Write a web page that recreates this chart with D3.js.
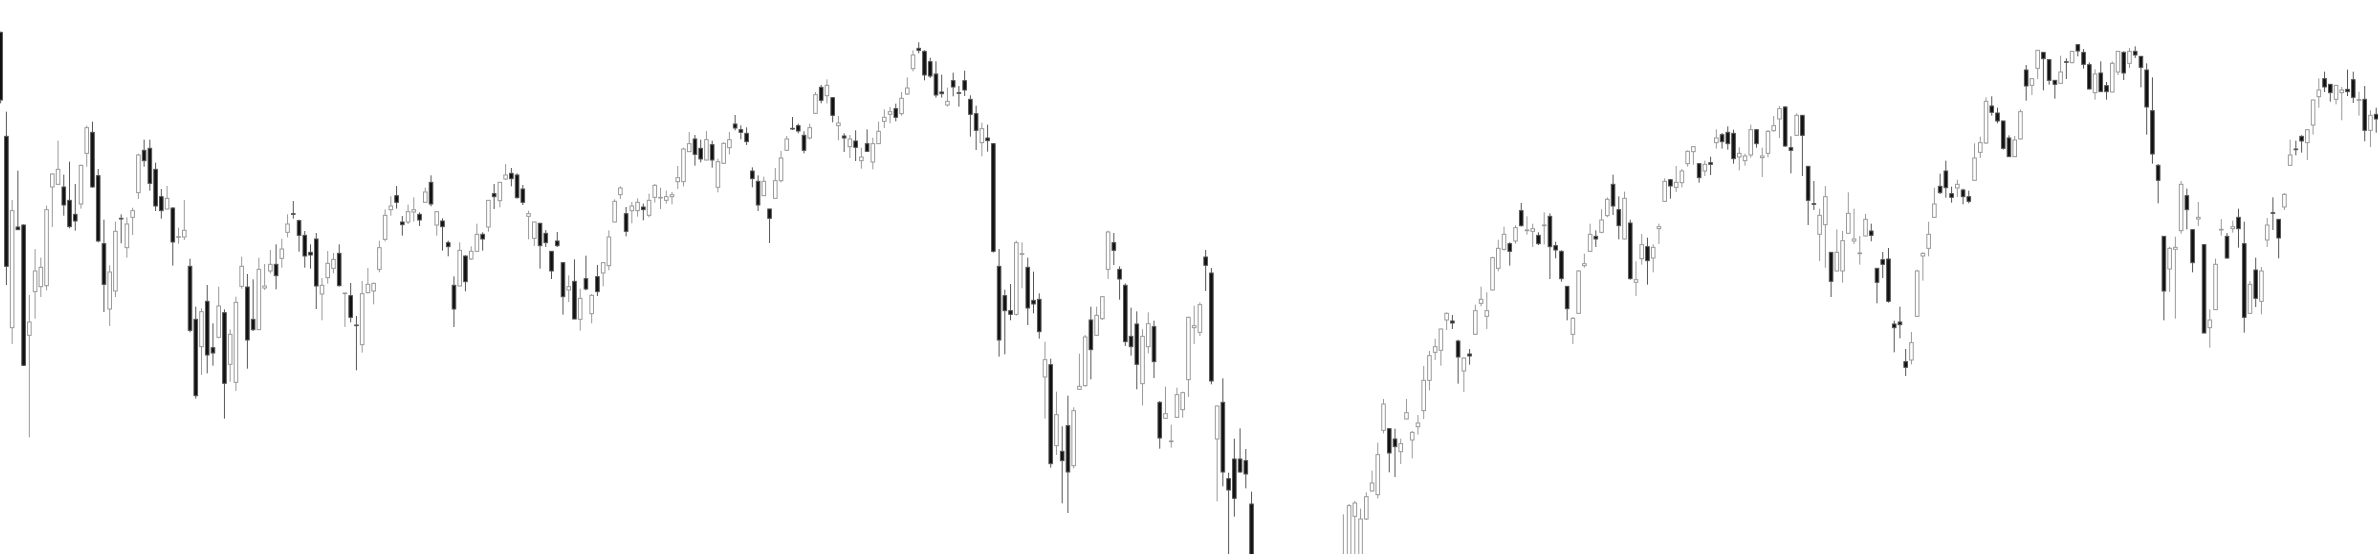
<!DOCTYPE html>
<html>
<head>
<meta charset="utf-8">
<script src="https://cdn.jsdelivr.net/npm/d3@7"></script>
<style>
  html, body { margin: 0; padding: 0; background: #fff; overflow: hidden; }
  svg { display: block; }
</style>
</head>
<body>
<div id="chart"></div>
<script>
const chartWidth = 2378;
const chartHeight = 554;

// daily OHLC (price units, lower rows are off-screen)
const openPrices = [
  2903,2591,2017,2319,2325,1994,2125,2140,2143,2439,
  2447,2439,2399,2357,2388,2540,2603,2473,2269,2073,
  2127,2345,2257,2348,2422,2549,2555,2492,2410,2373,
  2376,2288,2289,2201,2042,1960,2096,1957,1988,2062,
  1907,1853,2141,2139,2042,2011,2136,2187,2207,2225,
  2303,2359,2338,2294,2243,2283,2118,2167,2195,2240,
  2119,2113,2025,1966,2122,2127,2192,2282,2371,2413,
  2334,2334,2364,2357,2393,2453,2325,2337,2272,2144,
  2142,2232,2223,2246,2297,2319,2419,2398,2463,2480,
  2475,2433,2351,2285,2330,2300,2246,2277,2212,2130,
  2156,2042,2164,2059,2170,2181,2203,2334,2416,2359,
  2368,2368,2379,2354,2408,2406,2399,2410,2455,2455,
  2545,2583,2555,2520,2566,2438,2510,2557,2628,2611,
  2600,2487,2456,2413,2373,2405,2458,2549,2615,2623,
  2594,2586,2660,2738,2713,2707,2623,2592,2560,2577,
  2518,2569,2514,2569,2636,2657,2674,2659,2718,2794,
  2855,2846,2815,2778,2724,2685,2758,2722,2758,2702,
  2659,2572,2586,2569,2201,2113,2068,2057,2237,2198,
  2099,2102,1869,1906,1663,1646,1723,1603,1832,1843,
  2040,1994,2044,2192,2272,2192,2144,1991,2028,1849,
  1960,2020,1793,1745,1675,1748,1771,1861,2017,2003,
  2229,2181,1683,1793,1564,1623,1623,1618,1488,1270,
  1180,1230,1140,1060,1120,1010,1090,1160,1110,1180,
  1240,1210,1260,1300,1270,1310,1451,1320,1443,1527,
  1516,1709,1714,1683,1645,1743,1680,1720,1768,1859,
  1943,1949,2040,2037,1977,1887,1938,1997,2090,2051,
  2130,2195,2252,2269,2277,2368,2308,2306,2294,2323,
  2351,2263,2246,2141,1997,2060,2203,2246,2291,2303,
  2353,2447,2371,2283,2331,2153,2224,2260,2226,2314,
  2396,2461,2438,2452,2509,2545,2509,2487,2512,2572,
  2596,2603,2600,2529,2518,2535,2611,2527,2540,2608,
  2643,2679,2557,2594,2654,2501,2389,2297,2326,2243,
  2187,2187,2300,2277,2239,2292,2307,2195,2221,2223,
  2028,2034,1915,1920,2051,2232,2255,2348,2441,2487,
  2419,2436,2430,2410,2459,2543,2571,2682,2661,2637,
  2586,2530,2583,2790,2744,2795,2843,2821,2759,2750,
  2815,2812,2866,2843,2806,2722,2781,2743,2724,2784,
  2843,2810,2846,2831,2790,2668,2504,2291,2193,2252,
  2308,2413,2311,2343,2266,2017,2071,2310,2291,2314,
  2348,2269,2060,2190,2096,2280,2362,2342,2379,2504,
  2553,2591,2572,2625,2710,2764,2747,2702,2722,2732,
  2761,2699,2702,2609,2657
];

const highPrices = [
  2905,2665,2400,2488,2327,2115,2253,2227,2383,2480,
  2578,2476,2515,2448,2506,2623,2635,2493,2341,2204,
  2335,2357,2348,2377,2539,2581,2581,2512,2433,2442,
  2378,2317,2400,2224,2080,2075,2145,2030,2140,2072,
  2012,2110,2230,2178,2162,2227,2208,2250,2267,2284,
  2357,2397,2341,2307,2267,2301,2166,2247,2241,2267,
  2122,2151,2052,2157,2196,2152,2278,2372,2411,2442,
  2352,2386,2408,2363,2437,2474,2366,2345,2278,2171,
  2273,2234,2261,2329,2303,2400,2448,2454,2508,2496,
  2480,2445,2368,2335,2332,2310,2247,2304,2213,2174,
  2222,2134,2233,2118,2205,2214,2309,2402,2441,2379,
  2394,2405,2389,2419,2448,2437,2428,2424,2502,2557,
  2604,2595,2581,2607,2578,2524,2573,2604,2655,2624,
  2618,2498,2474,2470,2374,2496,2547,2592,2649,2629,
  2606,2629,2724,2745,2762,2708,2652,2600,2595,2609,
  2557,2612,2587,2635,2672,2679,2689,2724,2768,2849,
  2873,2849,2827,2816,2776,2737,2782,2742,2788,2714,
  2683,2632,2626,2570,2253,2131,2148,2278,2273,2227,
  2185,2120,1975,1924,1825,1721,1813,1778,1939,1995,
  2080,2080,2111,2308,2301,2201,2150,2077,2066,2012,
  2063,2038,1797,1840,1726,1837,1825,2050,2083,2093,
  2250,2196,1783,1865,1582,1684,1715,1653,1525,1300,
  1260,1250,1160,1150,1140,1120,1170,1190,1210,1260,
  1280,1300,1320,1325,1457,1488,1497,1474,1523,1588,
  1672,1803,1715,1714,1684,1803,1707,1755,1902,1947,
  1984,2014,2063,2055,1981,1927,1953,2086,2140,2123,
  2230,2281,2320,2273,2324,2391,2351,2329,2303,2363,
  2360,2275,2249,2142,2049,2190,2239,2329,2309,2372,
  2408,2476,2411,2425,2341,2216,2298,2287,2267,2329,
  2465,2462,2502,2493,2549,2561,2510,2518,2530,2612,
  2601,2621,2611,2558,2539,2626,2612,2557,2610,2652,
  2682,2682,2591,2660,2655,2502,2457,2374,2442,2244,
  2312,2307,2423,2374,2292,2358,2329,2196,2244,2256,
  2038,2080,1953,2004,2191,2243,2335,2437,2479,2518,
  2440,2461,2434,2428,2570,2590,2708,2711,2677,2638,
  2594,2592,2672,2805,2765,2850,2844,2822,2760,2833,
  2825,2847,2867,2853,2813,2792,2816,2754,2816,2847,
  2846,2856,2861,2832,2810,2768,2508,2292,2260,2290,
  2457,2434,2312,2394,2267,2072,2224,2343,2301,2338,
  2374,2335,2157,2227,2199,2346,2408,2343,2421,2581,
  2578,2594,2612,2701,2765,2785,2748,2745,2739,2791,
  2785,2725,2742,2669,2677
];

const lowPrices = [
  2690,2145,1968,2310,1902,1688,2044,2109,2129,2319,
  2445,2353,2315,2308,2374,2500,2437,2273,2064,2022,
  2109,2270,2227,2295,2403,2500,2428,2367,2344,2372,
  2203,2269,2280,2003,1804,1875,1880,1903,1985,1744,
  1855,1827,2134,1894,2007,2010,2130,2180,2132,2197,
  2288,2344,2245,2197,2194,2073,2039,2149,2180,2140,
  2019,2033,1889,1942,2120,2087,2183,2276,2353,2374,
  2293,2328,2335,2322,2392,2381,2293,2248,2231,2019,
  2141,2126,2220,2245,2248,2305,2373,2378,2460,2441,
  2404,2385,2282,2262,2194,2259,2163,2259,2056,2094,
  2042,2008,2129,2030,2112,2141,2189,2333,2403,2291,
  2330,2350,2339,2348,2392,2373,2389,2387,2433,2441,
  2544,2503,2513,2519,2497,2423,2508,2537,2609,2582,
  2565,2438,2367,2412,2271,2404,2453,2548,2610,2600,
  2540,2582,2659,2690,2690,2633,2579,2544,2526,2517,
  2494,2545,2492,2568,2616,2630,2636,2653,2715,2786,
  2840,2759,2766,2707,2707,2680,2711,2680,2712,2590,
  2550,2531,2545,2242,1930,1937,2039,2053,2135,2025,
  2060,1984,1744,1597,1635,1490,1461,1595,1831,1840,
  1862,1993,2040,2163,2205,2101,1962,1933,1832,1784,
  1940,1866,1654,1744,1657,1747,1747,1809,1968,1992,
  2127,1847,1496,1541,1300,1450,1582,1535,1240,1170,
  1150,1120,1040,1030,1000,980,1070,1080,1100,1160,
  1170,1200,1230,1240,1250,1300,1320,1310,1440,1525,
  1505,1700,1583,1569,1608,1742,1625,1696,1743,1829,
  1920,1903,2010,2013,1849,1824,1906,1996,2081,2013,
  2129,2186,2248,2203,2269,2320,2296,2259,2265,2267,
  2163,2225,2155,2039,1968,2059,2197,2245,2259,2300,
  2348,2355,2282,2282,2161,2112,2206,2146,2183,2268,
  2395,2404,2424,2438,2500,2506,2452,2472,2475,2554,
  2554,2551,2509,2489,2503,2527,2557,2469,2528,2605,
  2586,2559,2480,2593,2472,2325,2370,2217,2197,2109,
  2186,2152,2299,2268,2206,2291,2276,2090,2166,2092,
  1943,1985,1872,1907,2050,2158,2231,2347,2418,2407,
  2392,2409,2387,2390,2458,2526,2568,2653,2630,2551,
  2529,2529,2582,2698,2715,2763,2729,2746,2704,2749,
  2763,2810,2831,2794,2732,2701,2724,2701,2723,2775,
  2760,2796,2826,2738,2596,2509,2390,2039,2124,2044,
  2299,2312,2183,2322,2000,1957,2070,2293,2223,2302,
  2257,2002,2059,2079,2057,2259,2310,2225,2370,2503,
  2534,2542,2520,2596,2677,2724,2695,2687,2639,2712,
  2691,2653,2576,2559,2602
];

const closePrices = [
  2700,2201,2368,2311,1904,2034,2187,2198,2371,2478,
  2492,2385,2320,2337,2504,2617,2439,2277,2147,2184,
  2306,2343,2328,2368,2535,2518,2450,2382,2368,2405,
  2274,2290,2309,2009,1813,2065,1935,1941,2082,1850,
  1997,2093,2201,1980,2011,2192,2142,2207,2173,2253,
  2328,2357,2294,2232,2235,2142,2144,2210,2222,2143,
  2121,2048,2023,2119,2147,2150,2257,2354,2382,2393,
  2326,2365,2371,2340,2424,2388,2365,2320,2260,2073,
  2249,2155,2246,2297,2283,2399,2410,2453,2475,2464,
  2407,2393,2359,2334,2263,2272,2187,2263,2110,2140,
  2043,2105,2133,2114,2125,2212,2289,2396,2436,2306,
  2382,2393,2371,2399,2444,2408,2410,2416,2467,2553,
  2569,2537,2523,2581,2520,2515,2570,2581,2616,2603,
  2575,2464,2385,2456,2345,2458,2526,2583,2613,2607,
  2549,2617,2716,2699,2744,2654,2631,2586,2583,2558,
  2529,2546,2569,2606,2648,2665,2648,2705,2736,2835,
  2849,2775,2772,2715,2719,2696,2739,2720,2730,2657,
  2609,2614,2578,2246,1980,2068,2057,2272,2239,2076,
  2088,2005,1921,1609,1756,1618,1584,1768,1841,1989,
  1951,2054,2110,2304,2249,2163,1975,1960,1907,1991,
  2029,1915,1686,1759,1677,1816,1822,2048,2023,2086,
  2204,1857,1782,1584,1530,1505,1584,1578,1280,1200,
  1240,1140,1080,1130,1050,1100,1150,1100,1190,1240,
  1200,1270,1300,1260,1310,1483,1491,1443,1510,1551,
  1636,1788,1641,1660,1669,1762,1703,1731,1859,1933,
  1960,2013,2060,2031,1929,1926,1932,2068,2102,2068,
  2227,2255,2297,2246,2317,2323,2310,2314,2269,2325,
  2260,2250,2164,2074,2045,2187,2209,2297,2283,2340,
  2402,2382,2323,2405,2164,2161,2266,2218,2258,2320,
  2456,2442,2453,2487,2546,2560,2467,2507,2507,2586,
  2575,2569,2524,2540,2532,2611,2569,2532,2606,2623,
  2674,2562,2549,2654,2594,2399,2387,2354,2410,2156,
  2243,2278,2360,2283,2241,2342,2294,2153,2207,2096,
  2017,2026,1898,1972,2187,2240,2297,2388,2422,2437,
  2408,2447,2410,2396,2526,2572,2696,2663,2637,2555,
  2530,2580,2665,2742,2764,2849,2824,2759,2747,2784,
  2813,2846,2847,2807,2733,2778,2725,2725,2810,2846,
  2781,2846,2835,2798,2679,2538,2459,2127,2255,2258,
  2447,2371,2212,2348,2001,2040,2207,2312,2226,2320,
  2314,2048,2147,2105,2187,2325,2360,2286,2417,2535,
  2551,2577,2611,2700,2730,2739,2722,2744,2730,2725,
  2708,2701,2609,2654,2643
];

// visible price window of the picture
const priceRange = [1338, 3000];

function buildCandles() {
  var n = Math.min(openPrices.length, highPrices.length, lowPrices.length, closePrices.length);
  var rows = [];
  for (var i = 0; i < n; i++) {
    rows.push({
      day: i,
      open: openPrices[i],
      high: highPrices[i],
      low: lowPrices[i],
      close: closePrices[i]
    });
  }
  return rows;
}

function drawChart(data) {
  var x = d3.scaleBand()
    .domain(data.map(function (d) { return d.day; }))
    .range([-1.63, 2378.5])
    .paddingInner(0.2)
    .paddingOuter(0);

  var y = d3.scaleLinear()
    .domain(priceRange)
    .range([chartHeight, 0]);

  var svg = d3.select("#chart").append("svg")
    .attr("width", chartWidth)
    .attr("height", chartHeight);

  svg.append("rect")
    .attr("width", chartWidth)
    .attr("height", chartHeight)
    .attr("fill", "#ffffff");

  var bw = x.bandwidth();
  var isUp = function (d) { return d.close > d.open; };

  var candle = svg.selectAll("g.candle")
    .data(data)
    .enter().append("g")
    .attr("class", "candle");

  // wicks
  candle.append("line")
    .attr("x1", function (d) { return x(d.day) + bw / 2; })
    .attr("x2", function (d) { return x(d.day) + bw / 2; })
    .attr("y1", function (d) { return y(d.high); })
    .attr("y2", function (d) { return y(d.low); })
    .attr("stroke", function (d) { return isUp(d) ? "#999999" : "#555555"; })
    .attr("stroke-width", 1);

  // bodies
  candle.append("rect")
    .attr("x", function (d) { return x(d.day) + 0.5; })
    .attr("y", function (d) { return y(Math.max(d.open, d.close)); })
    .attr("width", bw - 1)
    .attr("height", function (d) {
      return Math.max(0.6, Math.abs(y(d.open) - y(d.close)));
    })
    .attr("fill", function (d) { return isUp(d) ? "#ffffff" : "#111111"; })
    .attr("stroke", function (d) { return isUp(d) ? "#999999" : "#555555"; })
    .attr("stroke-width", 1);
}

drawChart(buildCandles());
</script>
</body>
</html>
